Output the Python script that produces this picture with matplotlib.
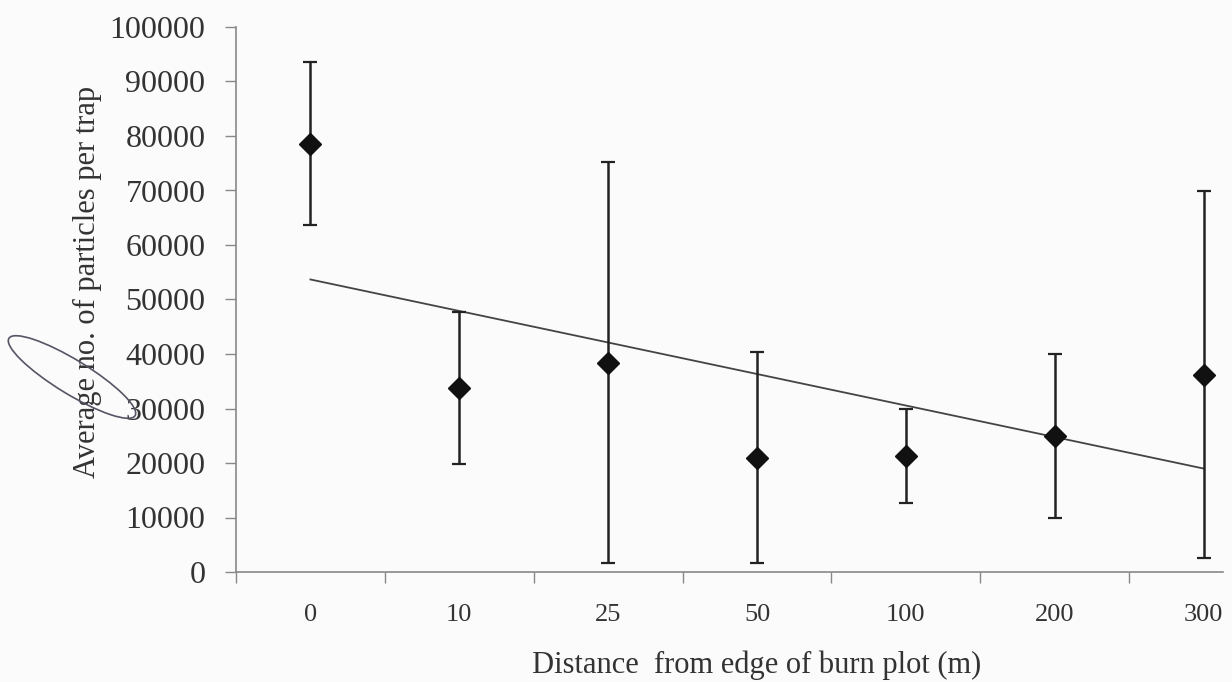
import numpy as np
import matplotlib
matplotlib.use("Agg")
import matplotlib.pyplot as plt
from matplotlib.patches import Ellipse

# ---- data ----
categories = ["0", "10", "25", "50", "100", "200", "300"]
mean_particles = [78600, 33800, 38400, 21000, 21300, 25000, 36200]
err_particles = [15000, 13900, 36800, 19400, 8700, 15000, 33700]
y_ticks = [0, 10000, 20000, 30000, 40000, 50000, 60000, 70000, 80000, 90000, 100000]
x_label = "Distance  from edge of burn plot (m)"
y_label = "Average no. of particles per trap"

plt.rcParams['font.family'] = ['Liberation Serif', 'DejaVu Serif']

fig = plt.figure(figsize=(12.32, 6.82), dpi=100)
fig.patch.set_facecolor("#fbfbfb")
ax = fig.add_axes([236/1232, 1-572/682, (1223-236)/1232, (572-27)/682])
ax.set_facecolor("none")

x = np.arange(len(categories))
ax.errorbar(x, mean_particles, yerr=err_particles, fmt='D', color='#111111',
            markersize=11, ecolor='#222222', elinewidth=1.8, capsize=5,
            capthick=1.6, zorder=3)

# linear trend line
coef = np.polyfit(x, mean_particles, 1)
ax.plot([x[0], x[-1]], np.polyval(coef, [x[0], x[-1]]), color='#444444',
        linewidth=1.3, zorder=2)

ax.set_xlim(-0.5, 6.13)
ax.set_ylim(0, 100000)
ax.set_yticks(y_ticks)
ax.set_yticklabels([str(v) for v in y_ticks], fontsize=23, color='#333333')
ax.set_xticks(x)
ax.set_xticklabels(categories, fontsize=19, color='#333333')
ax.set_xticks(np.arange(-0.5, 6.0, 1.0), minor=True)
ax.tick_params(axis='x', which='major', length=0, pad=23)
ax.tick_params(axis='x', which='minor', length=8, color='#888888', width=1)
ax.tick_params(axis='y', which='major', length=8, color='#888888', width=1, pad=14)

for s in ['top', 'right']:
    ax.spines[s].set_visible(False)
for s in ['left', 'bottom']:
    ax.spines[s].set_color('#888888')
    ax.spines[s].set_linewidth(1.2)

ax.set_xlabel(x_label, fontsize=22, color='#333333')
ax.set_ylabel(y_label, fontsize=22, color='#333333')
ax.xaxis.set_label_coords(0.527, -0.144)
ax.yaxis.set_label_coords(-0.136, 0.532)

# hand-drawn pen ellipse annotation on the scan
ell = Ellipse((72/100, (682-377)/100), width=1.48, height=0.34, angle=-31.5,
              transform=fig.dpi_scale_trans, fill=False, edgecolor='#555566',
              linewidth=1.2)
fig.add_artist(ell)

fig.savefig("out.png", dpi=100, facecolor=fig.get_facecolor())
